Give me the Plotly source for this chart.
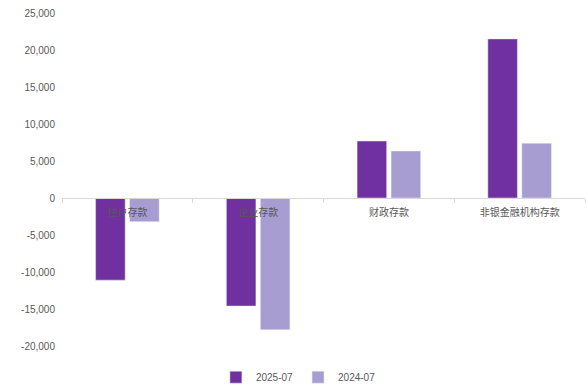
import plotly.graph_objects as go

categories = ["住户存款", "企业存款", "财政存款", "非银金融机构存款"]
series_2025 = [-11100, -14600, 7700, 21500]
series_2024 = [-3200, -17800, 6350, 7400]
tick_vals = [25000, 20000, 15000, 10000, 5000, 0, -5000, -10000, -15000, -20000]
tick_text = [f"{v:,}" for v in tick_vals]

y_min, y_max = -20000, 25000

fig = go.Figure()
fig.add_trace(go.Bar(name="2025-07", x=categories, y=series_2025, marker_color="#7030a0"))
fig.add_trace(go.Bar(name="2024-07", x=categories, y=series_2024, marker_color="#a79dd1"))

fig.update_layout(
    width=588, height=387,
    margin=dict(l=62, r=3, t=13, b=41, autoexpand=False),
    paper_bgcolor="white", plot_bgcolor="white",
    barmode="group", bargap=0.48, bargroupgap=0.13,
    font=dict(family="Liberation Sans", size=10, color="#595959"),
    legend=dict(orientation="h", x=0.452, xanchor="center", y=-0.05, yanchor="top",
                font=dict(size=10, color="#595959"), itemwidth=30,
                traceorder="normal"),
    showlegend=True,
)
fig.update_xaxes(
    anchor="free", position=(0 - y_min) / (y_max - y_min), automargin=False,
    showline=True, linecolor="#d9d9d9", linewidth=1,
    ticks="outside", tickson="boundaries", ticklen=4, tickcolor="#d9d9d9",
    ticklabelstandoff=5,
    tickfont=dict(family="Noto Sans CJK SC", size=10, color="#595959"),
    showgrid=False, zeroline=False,
)
fig.update_yaxes(
    range=[y_min, y_max], tickvals=tick_vals, ticktext=tick_text, automargin=False,
    showgrid=False, zeroline=False, showline=False, ticks="", ticklabelstandoff=6,
    tickfont=dict(size=10, color="#595959"),
)
fig.write_html("out.html", config={"displayModeBar": False},
               post_script="document.body.style.margin='0px';")
